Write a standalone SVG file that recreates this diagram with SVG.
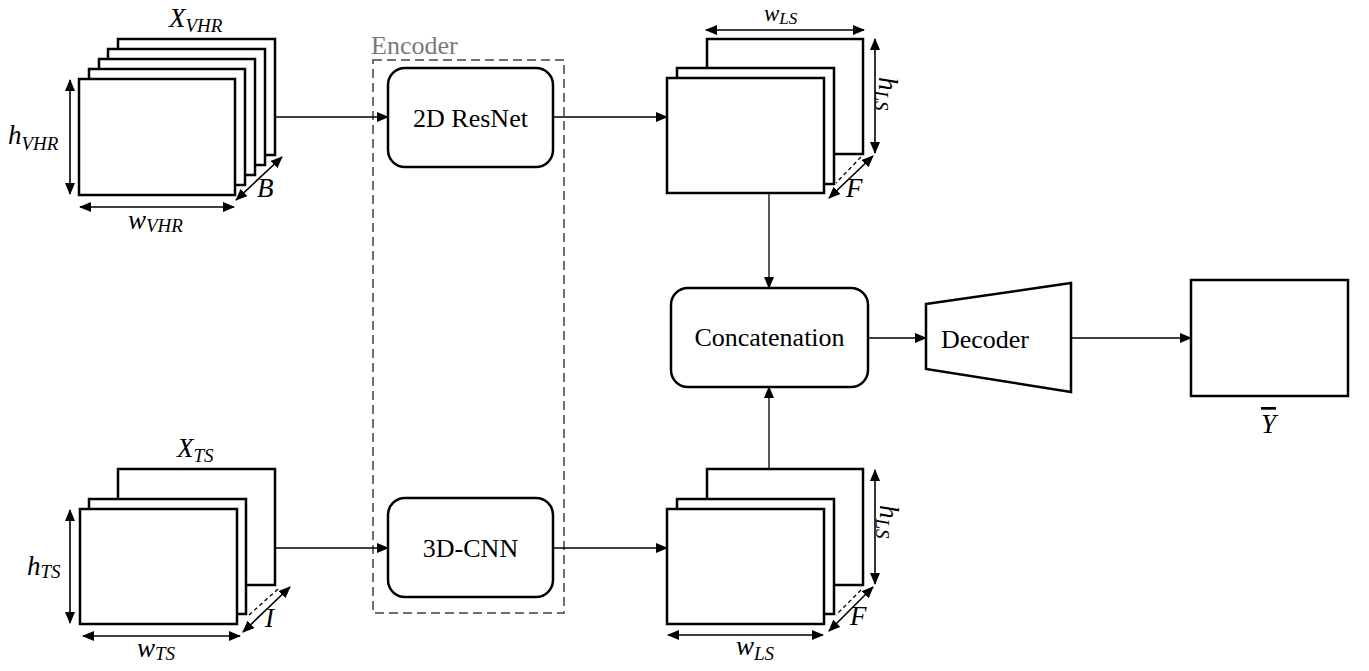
<svg xmlns="http://www.w3.org/2000/svg" width="1369" height="671" viewBox="0 0 1369 671">
<defs>
<marker id="ah" markerUnits="userSpaceOnUse" markerWidth="12" markerHeight="10" refX="11" refY="5" orient="auto-start-reverse">
<path d="M0,0 L12,5 L0,10 Z" fill="#000"/>
</marker>
<style>
.frame{fill:#fff;stroke:#000;stroke-width:2.5}
.box{fill:#fff;stroke:#000;stroke-width:2.5}
.conn{fill:none;stroke:#000;stroke-width:1.3}
.dim{fill:none;stroke:#000;stroke-width:1.6}
.dash{fill:none;stroke:#000;stroke-width:1.3;stroke-dasharray:4 3}
.lbl{font-family:"Liberation Serif","Times New Roman",serif;font-size:26px;fill:#000}
.math{font-family:"Liberation Serif","Times New Roman",serif;font-style:italic;font-size:27px;fill:#000}
.sub{font-size:19px}
</style>
</defs>
<rect width="1369" height="671" fill="#fff"/>

<g id="encoder">
<rect x="373" y="60" width="191" height="553" fill="none" stroke="#707070" stroke-width="2" stroke-dasharray="9 5"/>
<text x="371" y="54" class="lbl" style="fill:#7a7a7a">Encoder</text>
</g>

<g id="connectors">
<line x1="275" y1="117" x2="388" y2="117" class="conn" marker-end="url(#ah)"/>
<line x1="553" y1="117" x2="667" y2="117" class="conn" marker-end="url(#ah)"/>
<line x1="769" y1="193" x2="769" y2="288" class="conn" marker-end="url(#ah)"/>
<line x1="769" y1="469" x2="769" y2="387" class="conn" marker-end="url(#ah)"/>
<line x1="275" y1="548" x2="388" y2="548" class="conn" marker-end="url(#ah)"/>
<line x1="553" y1="548" x2="667" y2="548" class="conn" marker-end="url(#ah)"/>
<line x1="868" y1="338" x2="926" y2="338" class="conn" marker-end="url(#ah)"/>
<line x1="1071" y1="338" x2="1191" y2="338" class="conn" marker-end="url(#ah)"/>
</g>

<g id="x-vhr">
<rect x="118" y="39" width="157" height="116" class="frame"/>
<rect x="108" y="49" width="157" height="116" class="frame"/>
<rect x="99" y="59" width="156" height="116" class="frame"/>
<rect x="89" y="69" width="156" height="116" class="frame"/>
<rect x="79" y="79" width="156" height="116" class="frame"/>
<line x1="70" y1="80" x2="70" y2="194" class="dim" marker-start="url(#ah)" marker-end="url(#ah)"/>
<line x1="80" y1="207" x2="234" y2="207" class="dim" marker-start="url(#ah)" marker-end="url(#ah)"/>
<line x1="236" y1="200" x2="282" y2="157" class="dim" marker-start="url(#ah)" marker-end="url(#ah)"/>
<text x="169" y="27" class="math">X<tspan class="sub" dy="5">VHR</tspan></text>
<text x="8" y="144" class="math">h<tspan class="sub" dy="6">VHR</tspan></text>
<text x="128" y="229" class="math">w<tspan class="sub" dy="3">VHR</tspan></text>
<text x="257" y="197" class="math">B</text>
</g>

<g id="x-ts">
<rect x="118" y="469" width="157" height="116" class="frame"/>
<rect x="89" y="499" width="157" height="115" class="frame"/>
<rect x="80" y="509" width="157" height="115" class="frame"/>
<line x1="278" y1="589" x2="249" y2="615" class="dash"/>
<line x1="70" y1="510" x2="70" y2="623" class="dim" marker-start="url(#ah)" marker-end="url(#ah)"/>
<line x1="83" y1="636" x2="240" y2="636" class="dim" marker-start="url(#ah)" marker-end="url(#ah)"/>
<line x1="243" y1="632" x2="290" y2="587" class="dim" marker-start="url(#ah)" marker-end="url(#ah)"/>
<text x="177" y="457" class="math">X<tspan class="sub" dy="5">TS</tspan></text>
<text x="27" y="575" class="math">h<tspan class="sub" dy="3">TS</tspan></text>
<text x="137" y="657" class="math">w<tspan class="sub" dy="3">TS</tspan></text>
<text x="265" y="627" class="math">I</text>
</g>

<g id="resnet2d">
<rect x="388" y="68" width="165" height="99" rx="17" class="box"/>
<text x="470.5" y="127" class="lbl" text-anchor="middle">2D ResNet</text>
</g>

<g id="cnn3d">
<rect x="388" y="498" width="165" height="99" rx="17" class="box"/>
<text x="470.5" y="557" class="lbl" text-anchor="middle">3D-CNN</text>
</g>

<g id="f-top">
<rect x="707" y="39" width="156" height="115" class="frame"/>
<rect x="677" y="68" width="157" height="116" class="frame"/>
<rect x="667" y="78" width="157" height="115" class="frame"/>
<line x1="861" y1="157" x2="836" y2="183" class="dash"/>
<line x1="706" y1="30" x2="864" y2="30" class="dim" marker-start="url(#ah)" marker-end="url(#ah)"/>
<line x1="875" y1="39" x2="875" y2="153" class="dim" marker-start="url(#ah)" marker-end="url(#ah)"/>
<line x1="829" y1="198" x2="873" y2="156" class="dim" marker-start="url(#ah)" marker-end="url(#ah)"/>
<text x="764" y="21" class="math" style="font-size:23px">w<tspan style="font-size:17px" dy="3">LS</tspan></text>
<text transform="translate(879,77) rotate(90)" class="math">h<tspan class="sub" dy="4">LS</tspan></text>
<text x="846" y="197" class="math">F</text>
</g>

<g id="f-bottom">
<rect x="707" y="469" width="156" height="116" class="frame"/>
<rect x="677" y="499" width="157" height="115" class="frame"/>
<rect x="667" y="509" width="157" height="115" class="frame"/>
<line x1="861" y1="590" x2="836" y2="615" class="dash"/>
<line x1="668" y1="635" x2="823" y2="635" class="dim" marker-start="url(#ah)" marker-end="url(#ah)"/>
<line x1="875" y1="470" x2="875" y2="584" class="dim" marker-start="url(#ah)" marker-end="url(#ah)"/>
<line x1="829" y1="631" x2="873" y2="587" class="dim" marker-start="url(#ah)" marker-end="url(#ah)"/>
<text x="736" y="655" class="math">w<tspan class="sub" dy="5">LS</tspan></text>
<text transform="translate(880,505) rotate(90)" class="math">h<tspan class="sub" dy="4">LS</tspan></text>
<text x="850" y="625" class="math">F</text>
</g>

<g id="concatenation">
<rect x="671" y="288" width="197" height="99" rx="17" class="box"/>
<text x="769.5" y="346" class="lbl" text-anchor="middle">Concatenation</text>
</g>

<g id="decoder">
<path d="M926,304 L1071,283 L1071,392 L926,369 Z" class="box"/>
<text x="985" y="348" class="lbl" text-anchor="middle">Decoder</text>
</g>

<g id="output">
<rect x="1191" y="280" width="157" height="116" class="box"/>
<text x="1261" y="433" class="math" style="text-decoration:overline">Y</text>
</g>
</svg>
